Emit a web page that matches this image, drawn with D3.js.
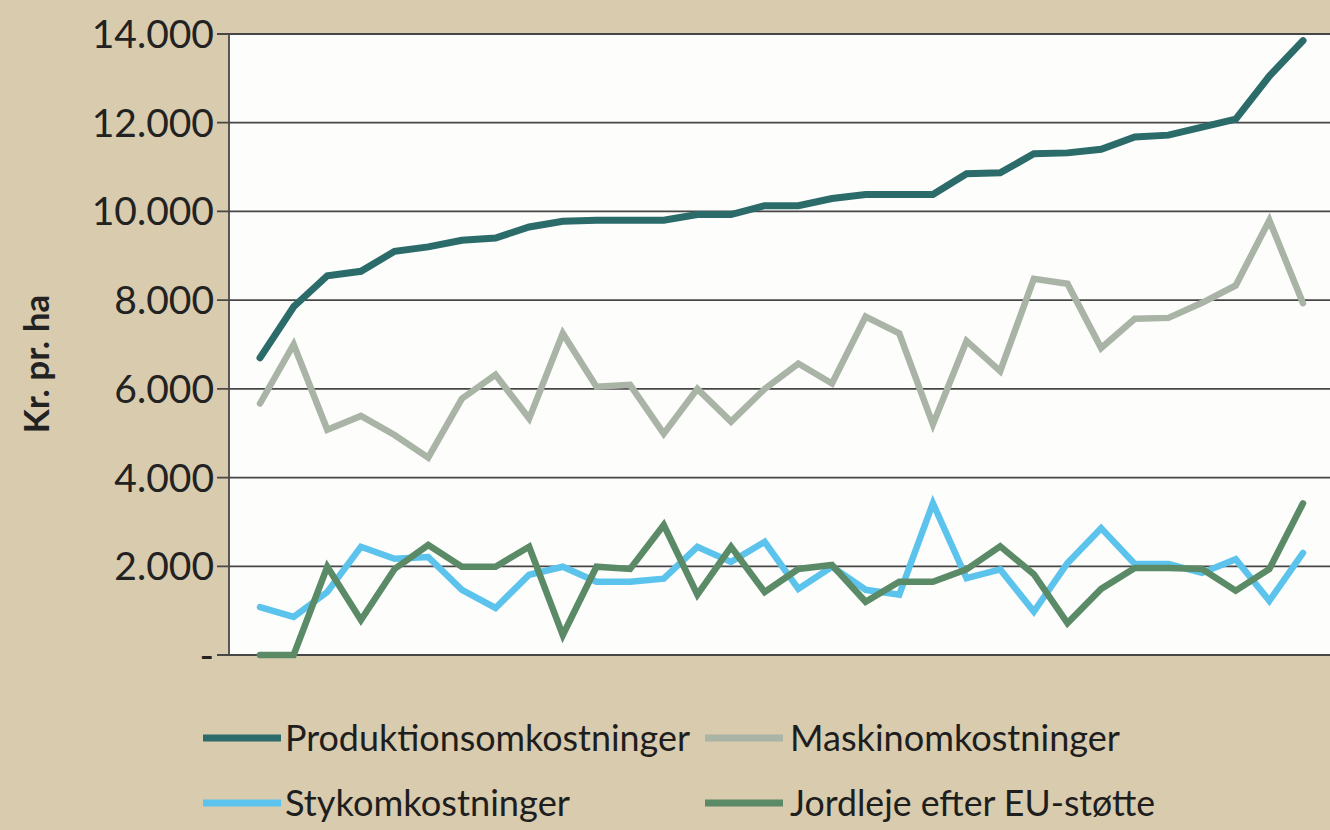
<!DOCTYPE html>
<html>
<head>
<meta charset="utf-8">
<script src="https://cdn.jsdelivr.net/npm/d3@7"></script>
<style>
  html, body { margin: 0; padding: 0; background: #d8cbae; }
  svg { display: block; }
</style>
</head>
<body>
<svg id="chart" width="1330" height="830"></svg>
<script>
// ---- data ----
const categories = d3.range(1, 33); // 32 observations
const produktion = [6700, 7850, 8550, 8650, 9100, 9200, 9350, 9400, 9650, 9780, 9800, 9800, 9800, 9930, 9930, 10130, 10130, 10290, 10380, 10380, 10380, 10850, 10870, 11300, 11320, 11400, 11680, 11720, 11900, 12080, 13050, 13850];
const maskin = [5670, 7000, 5080, 5390, 4960, 4450, 5780, 6320, 5330, 7250, 6050, 6090, 4990, 6000, 5260, 6000, 6570, 6120, 7630, 7250, 5200, 7080, 6400, 8480, 8370, 6920, 7580, 7600, 7940, 8330, 9800, 7930];
const styk = [1080, 860, 1420, 2440, 2170, 2210, 1470, 1060, 1810, 1990, 1650, 1650, 1720, 2440, 2100, 2550, 1490, 1990, 1470, 1360, 3420, 1730, 1930, 980, 2070, 2860, 2050, 2050, 1850, 2160, 1220, 2300];
const jordleje = [0, 0, 1990, 790, 1940, 2480, 1990, 1990, 2440, 450, 1990, 1940, 2930, 1360, 2440, 1420, 1940, 2030, 1200, 1650, 1650, 1930, 2450, 1820, 720, 1490, 1960, 1960, 1940, 1450, 1940, 3420];
const yTicks = [0, 2000, 4000, 6000, 8000, 10000, 12000, 14000];
const yTickLabels = ["-", "2.000", "4.000", "6.000", "8.000", "10.000", "12.000", "14.000"];
const seriesNames = ["Produktionsomkostninger", "Maskinomkostninger", "Stykomkostninger", "Jordleje efter EU-støtte"];
const seriesColors = ["#2b6b6a", "#a9b4a6", "#5cc4ec", "#5b8a67"];
const yTitle = "Kr. pr. ha";

// ---- layout ----
const svg = d3.select("#chart");
const plot = { left: 229, right: 1330, top: 34, bottom: 655 };

const x = d3.scalePoint().domain(categories).range([260, 1303]);
const y = d3.scaleLinear().domain([0, 14000]).range([plot.bottom, plot.top]);

// plot background
svg.append("rect")
  .attr("x", plot.left).attr("y", plot.top)
  .attr("width", plot.right - plot.left).attr("height", plot.bottom - plot.top)
  .attr("fill", "#fdfdfc");

// gridlines
svg.append("g").selectAll("line").data(yTicks).join("line")
  .attr("x1", plot.left - 12).attr("x2", plot.right)
  .attr("y1", d => y(d)).attr("y2", d => y(d))
  .attr("stroke", "#474747").attr("stroke-width", 1.8);

// y axis line
svg.append("line")
  .attr("x1", plot.left).attr("x2", plot.left)
  .attr("y1", plot.top).attr("y2", plot.bottom)
  .attr("stroke", "#474747").attr("stroke-width", 1.8);

// tick labels
svg.append("g").selectAll("text").data(yTicks).join("text")
  .attr("x", 214).attr("y", d => y(d))
  .attr("dy", "0.36em")
  .attr("text-anchor", "end")
  .attr("font-family", "Lato, 'Open Sans', sans-serif")
  .attr("font-size", 39)
  .attr("fill", "#222")
  .text((d, i) => yTickLabels[i]);

// y title
svg.append("text")
  .attr("transform", "translate(49,364) rotate(-90)")
  .attr("text-anchor", "middle")
  .attr("font-family", "Lato, 'Open Sans', sans-serif")
  .attr("font-weight", "bold")
  .attr("font-size", 35)
  .attr("fill", "#222")
  .text(yTitle);

// lines
const allSeries = [produktion, maskin, styk, jordleje];
const line = d3.line().x((d, i) => x(categories[i])).y(d => y(d));
[1, 2, 3, 0].forEach(k => {
  svg.append("path")
    .datum(allSeries[k])
    .attr("d", line)
    .attr("fill", "none")
    .attr("stroke", seriesColors[k])
    .attr("stroke-width", k === 0 ? 7 : 6.5)
    .attr("stroke-linejoin", "miter")
    .attr("stroke-linecap", "round");
});

// legend
const legendItems = [
  { k: 0, lx: 203, ly: 738, tx: 285, tw: 405 },
  { k: 1, lx: 705, ly: 738, tx: 790, tw: 330 },
  { k: 2, lx: 203, ly: 803, tx: 285, tw: 285 },
  { k: 3, lx: 705, ly: 803, tx: 790, tw: 365 }
];
const lg = svg.append("g");
legendItems.forEach(it => {
  lg.append("line")
    .attr("x1", it.lx).attr("x2", it.lx + 78)
    .attr("y1", it.ly).attr("y2", it.ly)
    .attr("stroke", seriesColors[it.k]).attr("stroke-width", 7);
  lg.append("text")
    .attr("x", it.tx).attr("y", it.ly)
    .attr("dy", "0.35em")
    .attr("font-family", "Lato, 'Open Sans', sans-serif")
    .attr("font-size", 37)
    .attr("fill", "#1e1e1e")
    .attr("textLength", it.tw)
    .attr("lengthAdjust", "spacingAndGlyphs")
    .text(seriesNames[it.k]);
});
</script>
</body>
</html>
